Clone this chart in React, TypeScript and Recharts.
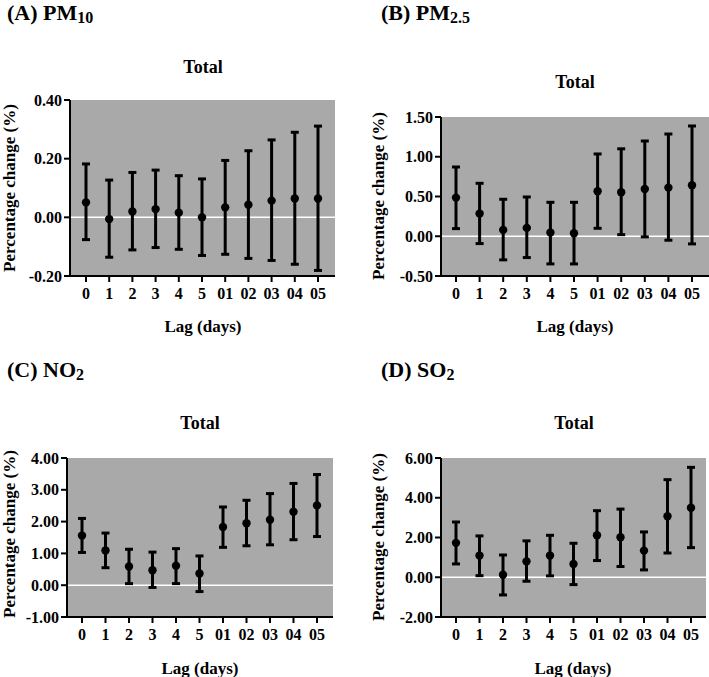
import {
  CartesianGrid,
  ComposedChart,
  ErrorBar,
  Line,
  XAxis,
  YAxis,
} from "recharts";

const lags = ["0", "1", "2", "3", "4", "5", "01", "02", "03", "04", "05"];

const pm10Mean = [0.051, -0.006, 0.02, 0.028, 0.016, 0.0, 0.034, 0.043, 0.057, 0.064, 0.064];
const pm10Low = [-0.076, -0.136, -0.111, -0.103, -0.109, -0.13, -0.126, -0.14, -0.147, -0.16, -0.181];
const pm10High = [0.182, 0.127, 0.153, 0.161, 0.142, 0.131, 0.194, 0.227, 0.264, 0.29, 0.311];

const pm25Mean = [0.486, 0.285, 0.08, 0.105, 0.046, 0.038, 0.566, 0.553, 0.595, 0.612, 0.641];
const pm25Low = [0.096, -0.092, -0.297, -0.268, -0.348, -0.348, 0.1, 0.02, -0.008, -0.05, -0.096];
const pm25High = [0.871, 0.666, 0.465, 0.494, 0.427, 0.427, 1.035, 1.1, 1.198, 1.286, 1.387];

const no2Mean = [1.56, 1.09, 0.59, 0.47, 0.61, 0.37, 1.83, 1.95, 2.06, 2.31, 2.51];
const no2Low = [1.03, 0.55, 0.05, -0.07, 0.05, -0.2, 1.19, 1.24, 1.27, 1.43, 1.53];
const no2High = [2.1, 1.64, 1.13, 1.04, 1.15, 0.92, 2.46, 2.67, 2.88, 3.2, 3.48];

const so2Mean = [1.73, 1.09, 0.13, 0.8, 1.09, 0.67, 2.11, 2.01, 1.34, 3.07, 3.5];
const so2Low = [0.67, 0.08, -0.89, -0.2, 0.07, -0.37, 0.84, 0.54, 0.37, 1.22, 1.49];
const so2High = [2.78, 2.08, 1.12, 1.83, 2.11, 1.71, 3.35, 3.43, 2.28, 4.91, 5.53];

const pm10Ticks = [-0.2, 0, 0.2, 0.4];
const pm25Ticks = [-0.5, 0, 0.5, 1, 1.5];
const no2Ticks = [-1, 0, 1, 2, 3, 4];
const so2Ticks = [-2, 0, 2, 4, 6];

const serif = "'Liberation Serif', 'Times New Roman', serif";
const tickStyle = { fill: "#000", fontSize: 16, fontWeight: 700, fontFamily: serif };
const axisStyle = { stroke: "#000", strokeWidth: 2 };

type Rect = { left: number; top: number; right: number; bottom: number };

function Panel({
  plot,
  pad,
  ticks,
  mean,
  low,
  high,
}: {
  plot: Rect;
  pad: [number, number];
  ticks: number[];
  mean: number[];
  low: number[];
  high: number[];
}) {
  const left = plot.left - 67;
  const top = plot.top - 10;
  const right = Math.min(5, 709 - plot.right);
  const width = plot.right - left + right;
  const height = plot.bottom - top + 40;
  const lo = ticks[0];
  const hi = ticks[ticks.length - 1];
  const data = lags.map((lag, i) => ({
    lag,
    mean: mean[i],
    err: [mean[i] - low[i], high[i] - mean[i]],
  }));

  return (
    <div style={{ position: "absolute", left, top }}>
      <ComposedChart
        width={width}
        height={height}
        data={data}
        margin={{ top: 10, right, left: 7, bottom: 10 }}
      >
        <CartesianGrid
          fill="#a9a9a9"
          fillOpacity={1}
          vertical={false}
          horizontalValues={[0]}
          stroke="#fff"
          strokeWidth={1.5}
        />
        <XAxis
          dataKey="lag"
          type="category"
          interval={0}
          height={30}
          padding={{ left: pad[0], right: pad[1] }}
          tickSize={6}
          tickMargin={6}
          axisLine={axisStyle}
          tickLine={axisStyle}
          tick={tickStyle}
        />
        <YAxis
          type="number"
          domain={[lo, hi]}
          ticks={ticks}
          width={60}
          tickSize={6}
          tickMargin={2}
          axisLine={axisStyle}
          tickLine={axisStyle}
          tick={tickStyle}
          tickFormatter={(v: number) => v.toFixed(2)}
        />
        <Line
          dataKey="mean"
          stroke="none"
          dot={{ r: 4.2, fill: "#000", stroke: "none" }}
          activeDot={false}
          isAnimationActive={false}
        >
          <ErrorBar dataKey="err" direction="y" width={4} strokeWidth={3} stroke="#000" />
        </Line>
      </ComposedChart>
    </div>
  );
}

function Title({ x, y, label, sub }: { x: number; y: number; label: string; sub: string }) {
  return (
    <text x={x} y={y} fontSize={22} fontWeight={700} fontFamily={serif}>
      {label}
      <tspan fontSize={16} dy={3}>
        {sub}
      </tspan>
    </text>
  );
}

function Texts() {
  const bold = { fontWeight: 700, fontFamily: serif, fill: "#000" };
  return (
    <svg
      width={709}
      height={677}
      style={{ position: "absolute", left: 0, top: 0, pointerEvents: "none" }}
    >
      <Title x={7} y={20} label="(A) PM" sub="10" />
      <Title x={381} y={20} label="(B) PM" sub="2.5" />
      <Title x={7} y={377} label="(C) NO" sub="2" />
      <Title x={381} y={377} label="(D) SO" sub="2" />

      <text x={203} y={73} fontSize={18} textAnchor="middle" {...bold}>Total</text>
      <text x={575} y={88} fontSize={18} textAnchor="middle" {...bold}>Total</text>
      <text x={200} y={429} fontSize={18} textAnchor="middle" {...bold}>Total</text>
      <text x={574} y={429} fontSize={18} textAnchor="middle" {...bold}>Total</text>

      <text x={203} y={332} fontSize={17} textAnchor="middle" {...bold}>Lag (days)</text>
      <text x={575} y={332} fontSize={17} textAnchor="middle" {...bold}>Lag (days)</text>
      <text x={200} y={674} fontSize={17} textAnchor="middle" {...bold}>Lag (days)</text>
      <text x={573} y={674} fontSize={17} textAnchor="middle" {...bold}>Lag (days)</text>

      <text x={15} y={188} fontSize={17} textAnchor="middle" transform="rotate(-90 15 188)" {...bold}>Percentage change (%)</text>
      <text x={384} y={196} fontSize={17} textAnchor="middle" transform="rotate(-90 384 196)" {...bold}>Percentage change (%)</text>
      <text x={15} y={534} fontSize={17} textAnchor="middle" transform="rotate(-90 15 534)" {...bold}>Percentage change (%)</text>
      <text x={384} y={537} fontSize={17} textAnchor="middle" transform="rotate(-90 384 537)" {...bold}>Percentage change (%)</text>
    </svg>
  );
}

export default function App() {
  return (
    <div
      style={{
        position: "absolute",
        left: 0,
        top: 0,
        width: 709,
        height: 677,
        overflow: "hidden",
        background: "#fff",
      }}
    >
      <Panel plot={{ left: 70, top: 100, right: 335, bottom: 276 }} pad={[16, 17]} ticks={pm10Ticks} mean={pm10Mean} low={pm10Low} high={pm10High} />
      <Panel plot={{ left: 441, top: 117, right: 709, bottom: 276 }} pad={[15, 17]} ticks={pm25Ticks} mean={pm25Mean} low={pm25Low} high={pm25High} />
      <Panel plot={{ left: 67, top: 458, right: 333, bottom: 617 }} pad={[15, 16]} ticks={no2Ticks} mean={no2Mean} low={no2Low} high={no2High} />
      <Panel plot={{ left: 441, top: 458, right: 706, bottom: 617 }} pad={[15, 15]} ticks={so2Ticks} mean={so2Mean} low={so2Low} high={so2High} />
      <Texts />
    </div>
  );
}
